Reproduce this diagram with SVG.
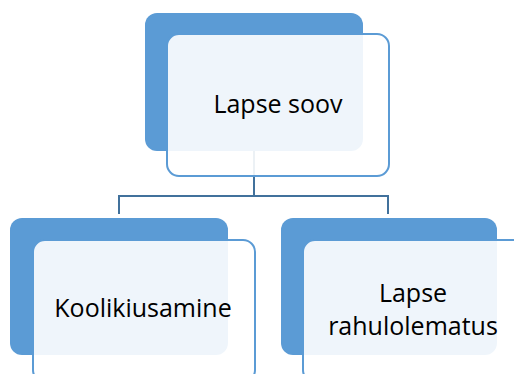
<svg xmlns="http://www.w3.org/2000/svg" width="514" height="374" viewBox="0 0 514 374">
<style>
.back{fill:#5b9bd5}
.front{fill:#ffffff;fill-opacity:0.9;stroke:#5b9bd5;stroke-width:2}
.conn{fill:none;stroke:#41719c;stroke-width:2}
text{font-family:"Open Sans","Liberation Sans",sans-serif;font-size:25px;fill:#000;text-anchor:middle}
</style>
<g id="connectors">
<path class="conn" d="M254 151 V196 M119 214 V196 H388 V214"/>
</g>
<g id="node-top">
<rect class="back" x="145" y="13" width="218" height="138" rx="12"/>
<rect class="front" x="167" y="34" width="222" height="142" rx="12"/>
<text x="278" y="113">Lapse soov</text>
</g>
<g id="node-left">
<rect class="back" x="10" y="218" width="218" height="137" rx="12"/>
<rect class="front" x="33" y="240" width="222" height="142" rx="12"/>
<text x="143" y="317">Koolikiusamine</text>
</g>
<g id="node-right">
<rect class="back" x="281" y="218" width="216" height="137" rx="12"/>
<rect class="front" x="303" y="240" width="222" height="142" rx="12"/>
<text x="413" y="302">Lapse</text>
<text x="413" y="335">rahulolematus</text>
</g>
</svg>
